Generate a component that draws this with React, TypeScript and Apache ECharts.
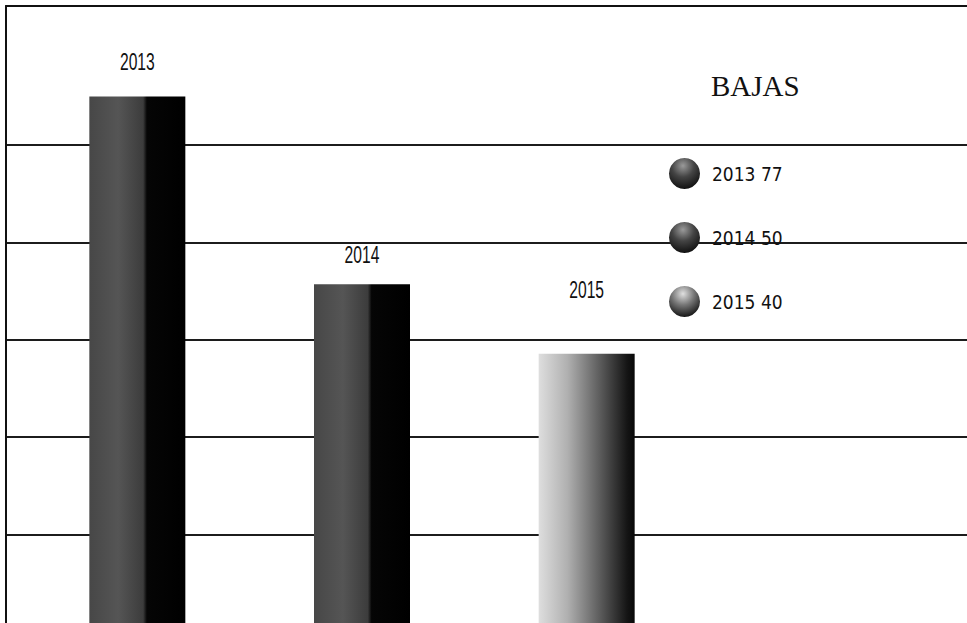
import React, { useEffect, useRef } from "react";
import * as echarts from "echarts";

// ---- data ----
const categories = ["2013", "2014", "2015"];
const values = [77, 50, 40];
const titleText = "BAJAS";
// value axis (hidden ticks) used for the horizontal rules
const axisMin = 0;
const axisMax = 90;
const axisInterval = 14;

const condensed = '"DejaVu Sans Condensed", "Liberation Sans Narrow", sans-serif';

const barGradients = [
  new echarts.graphic.LinearGradient(0, 0, 1, 0, [
    { offset: 0, color: "#474747" },
    { offset: 0.3, color: "#555555" },
    { offset: 0.56, color: "#3c3c3c" },
    { offset: 0.6, color: "#050505" },
    { offset: 1, color: "#000000" },
  ]),
  new echarts.graphic.LinearGradient(0, 0, 1, 0, [
    { offset: 0, color: "#474747" },
    { offset: 0.3, color: "#555555" },
    { offset: 0.56, color: "#3c3c3c" },
    { offset: 0.6, color: "#050505" },
    { offset: 1, color: "#000000" },
  ]),
  new echarts.graphic.LinearGradient(0, 0, 1, 0, [
    { offset: 0, color: "#dedede" },
    { offset: 0.3, color: "#b0b0b0" },
    { offset: 0.65, color: "#595959" },
    { offset: 0.92, color: "#151515" },
    { offset: 1, color: "#080808" },
  ]),
];

const sphere = (hi: string, mid: string) =>
  new echarts.graphic.RadialGradient(0.45, 0.25, 0.8, [
    { offset: 0, color: hi },
    { offset: 0.45, color: mid },
    { offset: 1, color: "#0a0a0a" },
  ]);
const legendColors = [sphere("#9a9a9a", "#444"), sphere("#9a9a9a", "#444"), sphere("#e0e0e0", "#777")];
// gap (px) between bar top and the centre of its year label
const labelGaps = [35, 29, 64];

export default function App() {
  const ref = useRef<HTMLDivElement>(null);
  useEffect(() => {
    document.body.style.margin = "0";
    if (!ref.current) return;
    const chart = echarts.init(ref.current, undefined, { renderer: "svg" });
    const gridTop = 6;
    const gridHeight = 626;
    const lineColors: string[] = [];
    const nTicks = Math.floor((axisMax - axisMin) / axisInterval) + 2;
    for (let i = 0; i < nTicks; i++) lineColors.push(i <= 5 ? "#1c1c1c" : "rgba(0,0,0,0)");

    chart.setOption({
      animation: false,
      backgroundColor: "#ffffff",
      title: {
        text: titleText,
        left: 706,
        top: 66,
        textStyle: { fontFamily: '"Liberation Serif", "DejaVu Serif", serif', fontSize: 29, fontWeight: "normal", color: "#111" },
      },
      legend: {
        orient: "vertical",
        left: 664,
        top: 153,
        itemWidth: 31,
        itemHeight: 31,
        itemGap: 33,
        selectedMode: false,
        icon: "circle",
        data: categories.map((c, i) => ({ name: c, itemStyle: { color: legendColors[i] } })),
        formatter: (name: string) => `${name} ${values[categories.indexOf(name)]}`,
        textStyle: { fontFamily: condensed, fontSize: 19, color: "#111", padding: [0, 0, 0, 7] },
      },
      grid: [
        { left: 6, right: 0, top: gridTop, height: gridHeight, outerBoundsMode: "none" },
        { left: 25, width: 674, top: gridTop, height: gridHeight, outerBoundsMode: "none" },
      ],
      xAxis: [
        {
          gridIndex: 0,
          type: "value",
          min: 0,
          max: 1,
          position: "top",
          axisLine: { show: true, onZero: false, lineStyle: { color: "#111", width: 2 } },
          axisTick: { show: false },
          axisLabel: { show: false },
          splitLine: { show: false },
        },
        {
          gridIndex: 1,
          type: "category",
          data: categories,
          show: false,
        },
      ],
      yAxis: [
        {
          gridIndex: 0,
          type: "value",
          min: axisMin,
          max: axisMax,
          interval: axisInterval,
          axisLine: { show: true, onZero: false, lineStyle: { color: "#111", width: 2 } },
          axisTick: { show: false },
          axisLabel: { show: false },
          splitLine: { show: true, lineStyle: { color: lineColors, width: 2 } },
        },
        {
          gridIndex: 1,
          type: "value",
          min: axisMin,
          max: axisMax,
          interval: axisInterval,
          show: false,
          splitLine: { show: false },
        },
      ],
      series: [
        ...categories.map((c, i) => ({
          type: "bar",
          name: c,
          xAxisIndex: 1,
          yAxisIndex: 1,
          stack: "all",
          barWidth: 96,
          z: 3,
          data: categories.map((_, j) => (j === i ? values[i] : "-")),
          itemStyle: { color: barGradients[i] },
        })),
        {
          type: "custom",
          name: "labels",
          xAxisIndex: 1,
          yAxisIndex: 1,
          z: 4,
          silent: true,
          data: categories.map((c, i) => [i, values[i]]),
          renderItem: (params: any, api: any) => {
            const idx = params.dataIndex;
            const pt = api.coord([api.value(0), api.value(1)]);
            return {
              type: "text",
              x: pt[0],
              y: pt[1] - labelGaps[idx],
              scaleX: 0.68,
              style: {
                text: categories[idx],
                fontFamily: '"Liberation Sans", Arial, sans-serif',
                fontSize: 23,
                fill: "#111",
                align: "center",
                verticalAlign: "middle",
              },
            };
          },
        },
      ],
    });
    return () => chart.dispose();
  }, []);
  return <div ref={ref} style={{ width: 967, height: 623 }} />;
}
